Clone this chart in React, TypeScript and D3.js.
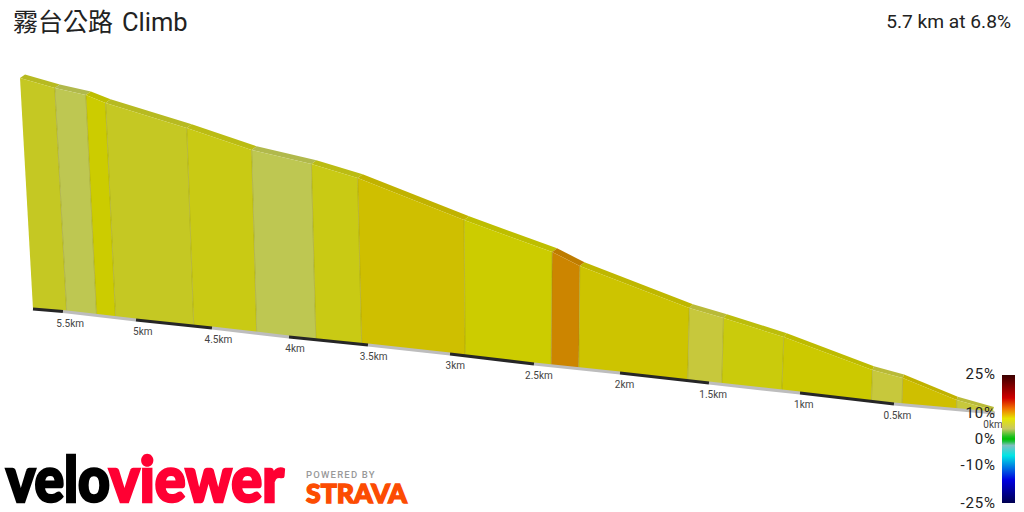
import React from "react";
import * as d3 from "d3";

const titleCjk = "霧台公路";
const titleLatin = "Climb";
const summary = "5.7 km at 6.8%";

// segment boundaries, from the summit (left) down to the start (right)
const boundaryKm = [5.7, 5.475, 5.27, 5.14, 4.62, 4.21, 3.83, 3.54, 2.91, 2.4, 2.24, 1.62, 1.43, 1.1, 0.62, 0.46, 0.19, 0];
const boundaryElev = [388, 376.3, 368, 358.8, 329.6, 303.9, 287.5, 271.1, 222, 184.7, 168.3, 119.2, 107.5, 85.3, 46.7, 37.4, 11.7, 0];
const segmentGrade = [5.5, 4, 7, 5.5, 6, 4, 6, 8.2, 7, 11, 7.6, 5, 6.4, 7.2, 5, 8.2, 5];

const axisKm = [5.7, 5.5, 5, 4.5, 4, 3.5, 3, 2.5, 2, 1.5, 1, 0.5, 0];
const axisLabels = ["5.5km", "5km", "4.5km", "4km", "3.5km", "3km", "2.5km", "2km", "1.5km", "1km", "0.5km", "0km"];

const legendTicks = [25, 10, 0, -10, -25];
const legendGrades = [25, 16, 12, 8, 4, 1, 0, -1, -2.5, -6.5, -16, -25];
const legendColors = ["#3a0000", "#d00000", "#f07000", "#e6e600", "#c8c860", "#20c020", "#00c000", "#20c040", "#7fc0c0", "#00e5e5", "#0000e0", "#000050"];

const fillGrades = [4, 5, 5.5, 6, 7, 7.6, 8.2, 11];
const fillColors = ["#bec752", "#c7c83c", "#c5c823", "#c9ca14", "#cccc00", "#cdc400", "#cfbf00", "#cc8500"];

const fill = d3.scaleLinear<string>().domain(fillGrades).range(fillColors).clamp(true);

const baseX = d3.scaleLinear().domain(axisKm).range([33, 63, 136, 212, 289, 368, 450, 534, 620, 709, 800, 894, 995]);
const baseY = d3.scaleLinear().domain(axisKm).range([309, 311.5, 320, 328, 337, 345, 354, 364, 373, 383, 393, 404, 413]);
const lean = d3.scaleLinear().domain([5.7, 5.14, 4.62, 4.21, 3.54, 2.91, 2.4, 1.1, 0.19, 0]).range([-13, -10, -7, -5, -4, -1, 1, 2, 0, -2]);
const topY = d3.scaleLinear().domain([0, 388]).range([410, 78]);
const depthX = d3.scaleLinear().domain([0, 0.6, 1.1, 2.5, 5.7]).range([1, 1.5, 3, 5, 5]);
const depthY = d3.scaleLinear().domain([0, 0.6, 5.7]).range([-3, -3.8, -3.6]);
const legendY = d3.scaleLinear().domain([25, -25]).range([375, 503]);

const poly = d3.line<[number, number]>().x((p) => p[0]).y((p) => p[1]);

const front = (i: number): [number, number] => [baseX(boundaryKm[i]) + lean(boundaryKm[i]), topY(boundaryElev[i])];
const back = (i: number): [number, number] => {
  const f = front(i);
  return [f[0] + depthX(boundaryKm[i]), f[1] + depthY(boundaryKm[i])];
};
const base = (i: number): [number, number] => [baseX(boundaryKm[i]), baseY(boundaryKm[i])];

const ui = "Roboto, 'Noto Sans CJK TC', sans-serif";
const heavy = "Lato, sans-serif";

export default function App() {
  return (
    <svg width={1024} height={512} style={{ position: "absolute", left: 0, top: 0, background: "#fff" }}>
      <defs>
        <linearGradient id="grade" x1="0" x2="0" y1="0" y2="1">
          {legendGrades.map((g, i) => (
            <stop key={g} offset={(25 - g) / 50} stopColor={legendColors[i]} />
          ))}
        </linearGradient>
      </defs>

      <text x={13} y={31} fontFamily={ui} fontSize={25} fill="#222">{titleCjk}</text>
      <text x={122} y={31} fontFamily={ui} fontSize={25.5} fill="#222">{titleLatin}</text>
      <text x={1011} y={28} textAnchor="end" fontFamily={ui} fontSize={19.2} fill="#222">{summary}</text>

      {segmentGrade.map((g, i) => {
        const color = fill(g);
        const top = d3.color(color)!.darker(0.2).formatHex();
        const a = front(i), b = front(i + 1);
        return (
          <g key={i}>
            <path d={poly([a, back(i), back(i + 1), b])! + "Z"} fill={top} />
            <path d={poly([a, b, base(i + 1), base(i)])! + "Z"} fill={color} />
          </g>
        );
      })}
      {boundaryKm.slice(1, -1).map((km, i) => (
        <path key={km} d={poly([front(i + 1), base(i + 1)])!} stroke="#8a8a20" strokeOpacity={0.4} strokeWidth={1} fill="none" />
      ))}

      {axisKm.slice(0, -1).map((km, i) => (
        <line key={km} x1={baseX(km)} y1={baseY(km)} x2={baseX(axisKm[i + 1])} y2={baseY(axisKm[i + 1])}
          stroke={i % 2 === 0 ? "#262626" : "#bdbdbd"} strokeWidth={3.2} />
      ))}
      {axisLabels.map((label, i) => {
        const km = axisKm[i + 1];
        const dx = km === 0 ? -2 : 3 + km * 0.75;
        return (
          <text key={label} x={baseX(km) + dx} y={baseY(km) + 15} textAnchor="middle" fontFamily={ui} fontSize={10} fill="#444">{label}</text>
        );
      })}

      <rect x={1002} y={legendY(25)} width={13} height={legendY(-25) - legendY(25)} fill="url(#grade)" />
      {legendTicks.map((t) => (
        <text key={t} x={996} y={legendY(t) + (t === 25 ? 4 : 5)} textAnchor="end" fontFamily={ui} fontSize={15} letterSpacing={0.9} fill="#222">{t}%</text>
      ))}

      <text x={6} y={502} fontFamily={heavy} fontWeight={900} fontSize={62} textLength={104} lengthAdjust="spacingAndGlyphs" fill="#000" stroke="#000" strokeWidth={2.6}>velo</text>
      <text x={109} y={502} fontFamily={heavy} fontWeight={900} fontSize={62} textLength={175} lengthAdjust="spacingAndGlyphs" fill="#ff0033" stroke="#ff0033" strokeWidth={2.6}>viewer</text>
      <text x={306} y={478} fontFamily={ui} fontWeight={500} fontSize={9.5} letterSpacing={1.2} fill="#999">POWERED BY</text>
      <text x={306} y={502.5} fontFamily={heavy} fontWeight={900} fontSize={26} textLength={101} lengthAdjust="spacingAndGlyphs" fill="#fc4c02" stroke="#fc4c02" strokeWidth={1.4}>STRAVA</text>
    </svg>
  );
}
